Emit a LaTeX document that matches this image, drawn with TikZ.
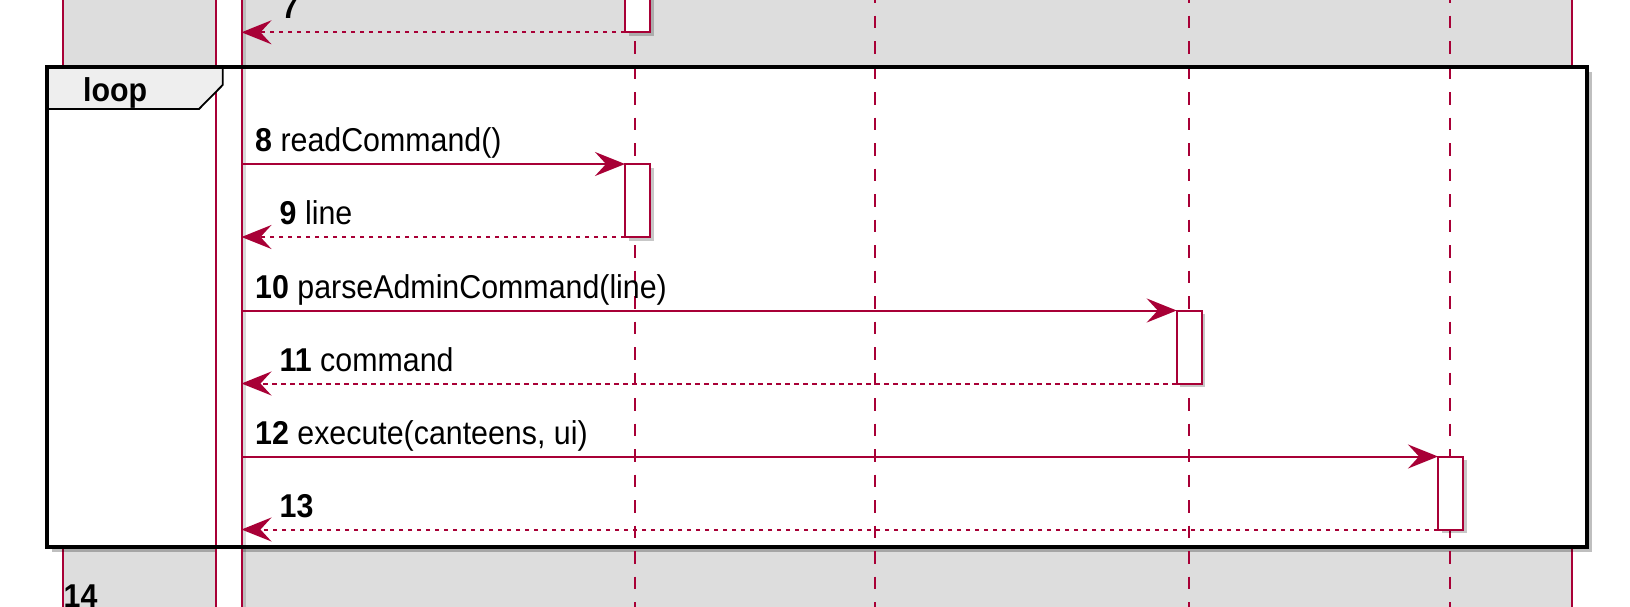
\documentclass[tikz,border=0pt]{standalone}
\usepackage{fontspec}
\setmainfont{Liberation Sans}[FakeStretch=0.92]
\usetikzlibrary{arrows.meta,shadows}
\definecolor{crim}{HTML}{A80036}
\definecolor{bggrey}{HTML}{DDDDDD}
\definecolor{tabgrey}{HTML}{EEEEEE}
\begin{document}
\begin{tikzpicture}[x=1pt,y=-1pt,
  lifeline/.style={draw=crim, line width=2pt, dash pattern=on 12.5pt off 13pt},
  actbox/.style={draw=crim, fill=white, line width=2pt, minimum width=25pt, anchor=north west, inner sep=0pt, outer sep=0pt,
    drop shadow={shadow xshift=3.5pt, shadow yshift=-3.5pt, opacity=0.22, fill=black}},
  msg/.style={draw=crim, line width=2pt, -{Stealth[length=30pt,width=24pt,inset=11pt]}},
  ret/.style={msg, dash pattern=on 4.5pt off 4.5pt},
  lbl/.style={anchor=base west, inner sep=0pt, font=\fontsize{33}{39}\selectfont},
  border/.style={crim, line width=2pt}]
\useasboundingbox (0,0) rectangle (1630,606);
\fill[white] (0,0) rectangle (1630,606);
% grey group background
\fill[bggrey] (63,-10) rectangle (1572,616);
\draw[border] (63,-10) -- (63,616);
\draw[border] (1572,-10) -- (1572,616);
% loop background
\path[fill=white, drop shadow={shadow xshift=5pt, shadow yshift=-5pt, opacity=0.25, fill=black}] (47,67) rectangle (1587,547);
% lifelines
\coordinate (l2t) at (635,-10);  \coordinate (l2b) at (635,616);
\coordinate (l3t) at (875,-10);  \coordinate (l3b) at (875,616);
\coordinate (l4t) at (1188.5,-10); \coordinate (l4b) at (1188.5,616);
\coordinate (l5t) at (1450,-10); \coordinate (l5b) at (1450,616);
\draw[lifeline] (l2t) -- (l2b);
\draw[lifeline] (l3t) -- (l3b);
\draw[lifeline] (l4t) -- (l4b);
\draw[lifeline] (l5t) -- (l5b);
% main activation bar
\fill[black, opacity=0.15] (242.5,-20) rectangle (245.5,626);
\node[fill=white, minimum width=25.2pt, minimum height=650pt, inner sep=0pt, outer sep=0pt, anchor=north west] (mainbar) at (216.3,-20) {};
\draw[border] (mainbar.north west) -- (mainbar.south west);
\draw[border] (mainbar.north east) -- (mainbar.south east);
% activation boxes
\node[actbox, minimum height=62.3pt] (a7) at (625,-30) {};
\node[actbox, minimum height=73pt] (a8) at (625,164) {};
\node[actbox, minimum height=73pt] (a10) at (1176.7,310.5) {};
\node[actbox, minimum height=73pt] (a12) at (1438,456.5) {};
% messages
\draw[ret] (a7.south west) -- (mainbar.east |- a7.south west);
\draw[msg] (mainbar.east |- a8.north west) -- (a8.north west);
\draw[ret] (a8.south west) -- (mainbar.east |- a8.south west);
\draw[msg] (mainbar.east |- a10.north west) -- (a10.north west);
\draw[ret] (a10.south west) -- (mainbar.east |- a10.south west);
\draw[msg] (mainbar.east |- a12.north west) -- (a12.north west);
\draw[ret] (a12.south west) -- (mainbar.east |- a12.south west);
% loop frame
\node[draw=black, line width=3.8pt, minimum width=1540pt, minimum height=480pt, inner sep=0pt, outer sep=0pt, anchor=north west] (loopbox) at (47,67) {};
\draw[fill=tabgrey, line width=1.8pt, line join=miter] (loopbox.north west) -- (222.7,67) -- (222.7,85) -- (199,109) -- (47,109) -- cycle;
\draw[black, line width=3.8pt] (loopbox.north west) -- (loopbox.south west);
\draw[black, line width=3.8pt] (loopbox.north west) -- (loopbox.north east);
% labels
\node[lbl] (tloop) at (83,101) {\textbf{loop}};
\node[lbl] (t7) at (281.5,18) {\textbf{7}};
\node[lbl] (t8) at (255,151.5) {\textbf{8} readCommand()};
\node[lbl] (t9) at (279.5,224.5) {\textbf{9} line};
\node[lbl] (t10) at (255,298) {\textbf{10} parseAdminCommand(line)};
\node[lbl] (t11) at (279.5,371) {\textbf{11} command};
\node[lbl] (t12) at (255,444) {\textbf{12} execute(canteens, ui)};
\node[lbl] (t13) at (279.5,517) {\textbf{13}};
\node[lbl] (t14) at (63.5,607) {\textbf{14}};
\end{tikzpicture}
\end{document}
